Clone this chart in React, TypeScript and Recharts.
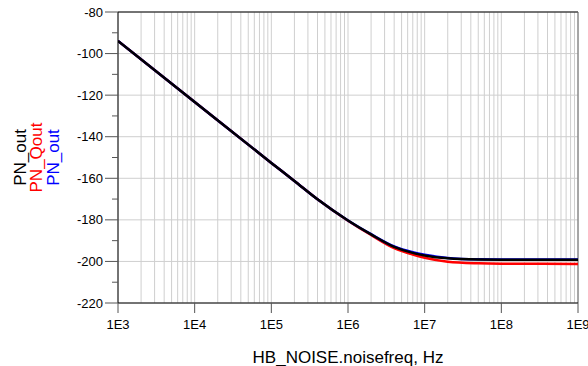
import React from 'react';
import { LineChart, Line, XAxis, YAxis, CartesianGrid, ReferenceLine, Label } from 'recharts';

// Noise frequency (Hz)
const freq = [1e3, 1e4, 1e5, 2e5, 4e5, 1e6, 2e6, 4e6, 7e6, 1e7, 2e7, 5e7, 1e8, 1e9];
// PN_out (black)
const pnOut = [-93.9, -123.3, -152.6, -161.3, -170.1, -180.3, -187.0, -193.0, -195.9, -197.1, -198.5, -199.1, -199.2, -199.2];
// PN_Qout (red)
const pnQout = [-93.9, -123.3, -152.6, -161.3, -170.1, -180.4, -187.3, -193.6, -196.7, -198.2, -200.1, -200.9, -201.1, -201.2];
// PN_out (blue)
const pnOutBlue = [-93.9, -123.3, -152.6, -161.3, -170.1, -180.3, -186.9, -192.8, -195.6, -196.8, -198.3, -199.0, -199.1, -199.1];

const decadeTicks = [1e3, 1e4, 1e5, 1e6, 1e7, 1e8, 1e9];
const decadeLabels = ['1E3', '1E4', '1E5', '1E6', '1E7', '1E8', '1E9'];
const minorMultipliers = [2, 3, 4, 5, 6, 7, 8, 9];
const yTicks = [-80, -90, -100, -110, -120, -130, -140, -150, -160, -170, -180, -190, -200, -210, -220];
const yMajor = [-80, -100, -120, -140, -160, -180, -200, -220];

const data = freq.map((f, i) => ({ f, out: pnOut[i], qout: pnQout[i], outB: pnOutBlue[i] }));
const xTicks: number[] = decadeTicks.flatMap((d, i) =>
  i < decadeTicks.length - 1 ? [d, ...minorMultipliers.map((m) => d * m)] : [d]
);

const FONT = 'Liberation Sans, Arial, Helvetica, sans-serif';

const XTick = (props: any) => {
  const { x, y, payload } = props;
  const idx = decadeTicks.indexOf(payload.value);
  if (idx < 0) return null;
  return (
    <g>
      <line x1={x} y1={y} x2={x} y2={y + 10} stroke="#555" strokeWidth={1} />
      <text x={x} y={y + 26} textAnchor="middle" fontSize={13} fontFamily={FONT} fill="#000">
        {decadeLabels[idx]}
      </text>
    </g>
  );
};

const YTick = (props: any) => {
  const { x, y, payload } = props;
  const major = yMajor.indexOf(payload.value) >= 0;
  return (
    <g>
      <line x1={x - (major ? 13 : 6)} y1={y} x2={x} y2={y} stroke="#555" strokeWidth={1} />
      {major && (
        <text x={x - 15} y={y} dy="0.35em" textAnchor="end" fontSize={13} fontFamily={FONT} fill="#000">
          {payload.value}
        </text>
      )}
    </g>
  );
};

const YLabel = (props: any) => {
  const vb = props.viewBox || { x: 0, y: 12, width: 118, height: 291 };
  const cy = vb.y + vb.height / 2;
  const items = [
    { t: 'PN_out', c: '#000000', bx: 26 },
    { t: 'PN_Qout', c: '#ff0000', bx: 42 },
    { t: 'PN_out', c: '#0000ff', bx: 59 },
  ];
  return (
    <g>
      {items.map((it, i) => (
        <text
          key={i}
          x={it.bx}
          y={cy}
          transform={`rotate(-90, ${it.bx}, ${cy})`}
          textAnchor="middle"
          fontSize={17}
          fontFamily={FONT}
          fill={it.c}
        >
          {it.t}
        </text>
      ))}
    </g>
  );
};

const XLabel = (props: any) => {
  const vb = props.viewBox || { x: 118, y: 303, width: 460, height: 63 };
  return (
    <text
      x={vb.x + vb.width / 2}
      y={vb.y + 60}
      textAnchor="middle"
      fontSize={17}
      fontFamily={FONT}
      fill="#000"
    >
      HB_NOISE.noisefreq, Hz
    </text>
  );
};

export default function App() {
  return (
    <div style={{ position: 'absolute', left: 0, top: 0, width: 588, height: 366, background: '#fff' }}>
      <LineChart width={588} height={366} data={data} margin={{ top: 12, right: 10, left: 0, bottom: 0 }}>
        <CartesianGrid horizontal={false} vertical stroke="#cfcfcf" strokeWidth={1} />
        {yMajor.map((v) => (
          <ReferenceLine key={v} y={v} stroke="#cfcfcf" strokeWidth={1} />
        ))}
        <XAxis
          dataKey="f"
          type="number"
          scale="log"
          domain={[1e3, 1e9]}
          ticks={xTicks}
          interval={0}
          allowDataOverflow
          height={63}
          tickSize={0}
          tickMargin={0}
          tickLine={false}
          tick={<XTick />}
          axisLine={{ stroke: '#000', strokeWidth: 1 }}
          label={<Label content={<XLabel />} />}
        />
        <YAxis
          type="number"
          domain={[-220, -80]}
          ticks={yTicks}
          interval={0}
          allowDataOverflow
          width={118}
          tickSize={0}
          tickMargin={0}
          tickLine={false}
          tick={<YTick />}
          axisLine={{ stroke: '#000', strokeWidth: 1 }}
          label={<Label content={<YLabel />} />}
        />
        <ReferenceLine y={-80} stroke="#000" strokeWidth={1} />
        <ReferenceLine x={1e9} stroke="#666" strokeWidth={1} />
        <Line type="monotone" dataKey="qout" stroke="#ff0000" strokeWidth={2.5} dot={false} isAnimationActive={false} />
        <Line type="monotone" dataKey="outB" stroke="#0000ff" strokeWidth={2.5} dot={false} isAnimationActive={false} />
        <Line type="monotone" dataKey="out" stroke="#000000" strokeWidth={2.5} dot={false} isAnimationActive={false} />
      </LineChart>
    </div>
  );
}
